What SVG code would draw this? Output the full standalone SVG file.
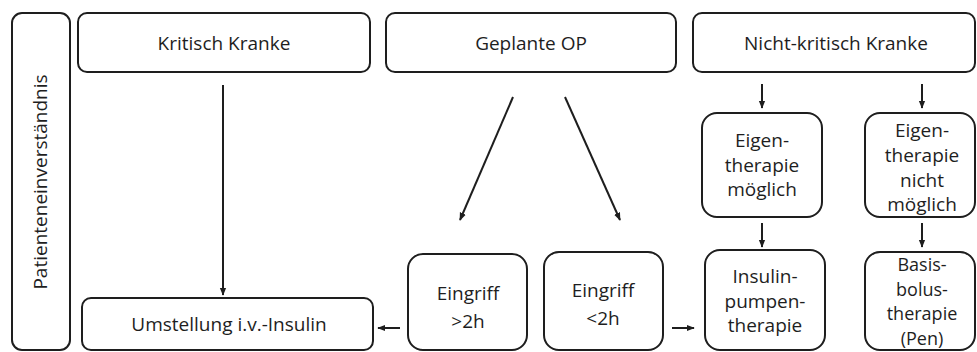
<svg xmlns="http://www.w3.org/2000/svg" width="977" height="352" viewBox="0 0 977 352">
<style>
.b{fill:#fff;stroke:#1e1e1e;stroke-width:2}
.t{font-family:"Open Sans","DejaVu Sans",sans-serif;font-size:19px;fill:#1e1e1e;text-anchor:middle}
.s{font-size:18px}
.c{stroke:#1e1e1e;stroke-width:2;fill:none}
</style>
<defs>
<marker id="a" viewBox="0 0 10 10" refX="9" refY="5" markerWidth="4" markerHeight="4" orient="auto" markerUnits="strokeWidth">
<path d="M0,1 L10,5 L0,9 z" fill="#1e1e1e"/>
</marker>
</defs>
<rect width="977" height="352" fill="#fff"/>
<g id="patient"><rect class="b" x="12" y="13" width="58" height="337" rx="10"/>
<text class="t" transform="translate(47,182) rotate(-90)">Patienteneinverständnis</text></g>
<g id="kritisch"><rect class="b" x="78" y="13" width="292" height="59" rx="9"/><text class="t" x="224" y="50">Kritisch Kranke</text></g>
<g id="geplant"><rect class="b" x="386" y="13" width="290" height="59" rx="9"/><text class="t" x="531" y="50">Geplante OP</text></g>
<g id="nichtkritisch"><rect class="b" x="693" y="13" width="282" height="59" rx="9"/><text class="t" x="836" y="50">Nicht-kritisch Kranke</text></g>
<g id="umstellung"><rect class="b" x="82" y="298" width="291" height="52" rx="9"/><text class="t" x="229" y="331">Umstellung i.v.-Insulin</text></g>
<g id="eingriff2"><rect class="b" x="408" y="254" width="119" height="96" rx="15"/><text class="t" x="468" y="300">Eingriff</text><text class="t" x="468" y="328">&gt;2h</text></g>
<g id="eingriff1"><rect class="b" x="544" y="252" width="119" height="98" rx="15"/><text class="t" x="603" y="297">Eingriff</text><text class="t" x="603" y="325">&lt;2h</text></g>
<g id="eigen"><rect class="b" x="702" y="113" width="120" height="104" rx="15"/><text class="t" x="762" y="147">Eigen-</text><text class="t" x="762" y="172">therapie</text><text class="t" x="762" y="196">möglich</text></g>
<g id="eigennicht"><rect class="b" x="865" y="113" width="110" height="104" rx="15"/><text class="t" x="922" y="137">Eigen-</text><text class="t" x="922" y="162">therapie</text><text class="t" x="922" y="187">nicht</text><text class="t" x="922" y="211">möglich</text></g>
<g id="pumpe"><rect class="b" x="705" y="250" width="120" height="100" rx="15"/><text class="t" x="765" y="283">Insulin-</text><text class="t" x="765" y="308">pumpen-</text><text class="t" x="765" y="332">therapie</text></g>
<g id="basis"><rect class="b" x="865" y="252" width="110" height="98" rx="15"/><text class="t s" x="922" y="271">Basis-</text><text class="t s" x="922" y="295.5">bolus-</text><text class="t s" x="922" y="320">therapie</text><text class="t s" x="922" y="345">(Pen)</text></g>
<g id="connectors">
<line class="c" x1="223" y1="85" x2="223" y2="295" marker-end="url(#a)"/>
<line class="c" x1="400" y1="328" x2="378" y2="328" marker-end="url(#a)"/>
<line class="c" x1="672" y1="328" x2="694" y2="328" marker-end="url(#a)"/>
<line class="c" x1="513" y1="97" x2="460" y2="220" marker-end="url(#a)"/>
<line class="c" x1="565" y1="97" x2="620" y2="220" marker-end="url(#a)"/>
<line class="c" x1="762" y1="84" x2="762" y2="108" marker-end="url(#a)"/>
<line class="c" x1="922" y1="84" x2="922" y2="108" marker-end="url(#a)"/>
<line class="c" x1="762" y1="223" x2="762" y2="247" marker-end="url(#a)"/>
<line class="c" x1="922" y1="223" x2="922" y2="247" marker-end="url(#a)"/>
</g>
</svg>
